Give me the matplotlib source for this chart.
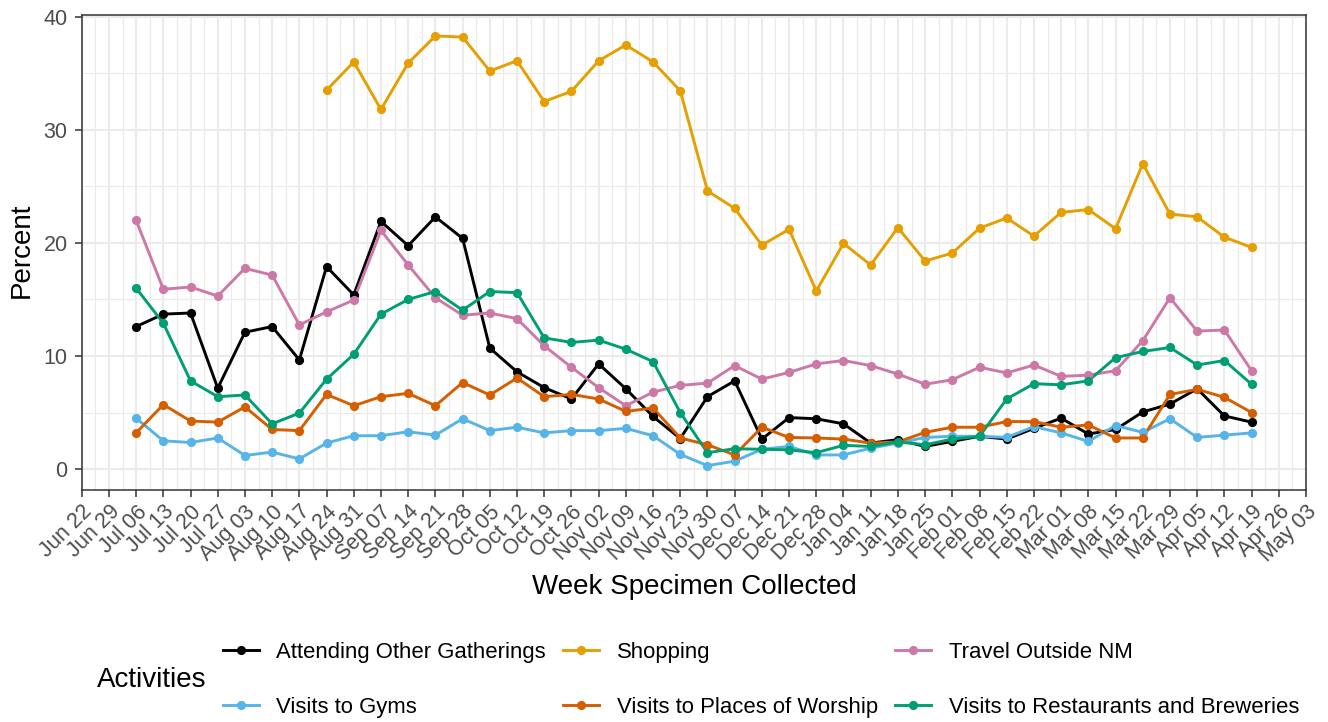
import matplotlib
matplotlib.use("Agg")
import matplotlib.pyplot as plt
import matplotlib.dates as mdates
from matplotlib.lines import Line2D
from matplotlib.ticker import FixedLocator
import numpy as np
import pandas as pd

plt.rcParams['font.family'] = ['Liberation Sans', 'DejaVu Sans']

weeks = ["2020-07-06", "2020-07-13", "2020-07-20", "2020-07-27", "2020-08-03", "2020-08-10",
         "2020-08-17", "2020-08-24", "2020-08-31", "2020-09-07", "2020-09-14", "2020-09-21",
         "2020-09-28", "2020-10-05", "2020-10-12", "2020-10-19", "2020-10-26", "2020-11-02",
         "2020-11-09", "2020-11-16", "2020-11-23", "2020-11-30", "2020-12-07", "2020-12-14",
         "2020-12-21", "2020-12-28", "2021-01-04", "2021-01-11", "2021-01-18", "2021-01-25",
         "2021-02-01", "2021-02-08", "2021-02-15", "2021-02-22", "2021-03-01", "2021-03-08",
         "2021-03-15", "2021-03-22", "2021-03-29", "2021-04-05", "2021-04-12", "2021-04-19"]

attending = [12.6, 13.7, 13.8, 7.15, 12.1, 12.6, 9.65, 17.9, 15.4, 21.9, 19.75, 22.3,
             20.4, 10.7, 8.6, 7.2, 6.2, 9.3, 7.1, 4.65, 2.7, 6.4, 7.8, 2.65,
             4.55, 4.45, 4.0, 2.3, 2.6, 2.0, 2.45, 2.9, 2.65, 3.6, 4.5, 3.1,
             3.5, 5.05, 5.75, 7.1, 4.7, 4.15]
shopping = [None, None, None, None, None, None, None, 33.5, 36.0, 31.8, 35.9, 38.3,
            38.2, 35.2, 36.1, 32.5, 33.4, 36.1, 37.5, 36.0, 33.45, 24.6, 23.05, 19.8,
            21.2, 15.75, 19.95, 18.05, 21.35, 18.4, 19.1, 21.3, 22.2, 20.6, 22.7, 22.95,
            21.25, 27.0, 22.55, 22.3, 20.5, 19.6]
travel = [22.0, 15.9, 16.1, 15.3, 17.75, 17.15, 12.75, 13.9, 14.95, 21.1, 18.05, 15.15,
          13.6, 13.8, 13.3, 10.9, 9.0, 7.2, 5.6, 6.8, 7.4, 7.6, 9.15, 7.95,
          8.55, 9.3, 9.6, 9.15, 8.4, 7.5, 7.9, 9.0, 8.5, 9.2, 8.2, 8.3,
          8.7, 11.35, 15.15, 12.2, 12.3, 8.7]
gyms = [4.5, 2.5, 2.35, 2.75, 1.2, 1.5, 0.9, 2.3, 2.95, 2.95, 3.3, 3.0,
        4.45, 3.4, 3.7, 3.2, 3.4, 3.4, 3.6, 2.95, 1.3, 0.3, 0.7, 1.75,
        2.0, 1.25, 1.25, 1.85, 2.3, 2.8, 2.9, 2.9, 2.8, 3.75, 3.2, 2.45,
        3.85, 3.25, 4.45, 2.8, 3.0, 3.2]
worship = [3.2, 5.7, 4.25, 4.15, 5.5, 3.5, 3.4, 6.6, 5.6, 6.4, 6.7, 5.6,
           7.65, 6.55, 8.05, 6.4, 6.6, 6.2, 5.1, 5.4, 2.75, 2.15, 1.25, 3.7,
           2.8, 2.75, 2.65, 2.3, 2.4, 3.25, 3.7, 3.7, 4.2, 4.2, 3.7, 3.9,
           2.75, 2.75, 6.6, 7.05, 6.35, 5.0]
restaurants = [16.0, 12.9, 7.8, 6.4, 6.55, 4.0, 4.95, 7.95, 10.15, 13.7, 15.0, 15.7,
               14.05, 15.7, 15.6, 11.6, 11.2, 11.4, 10.6, 9.5, 5.0, 1.45, 1.8, 1.75,
               1.7, 1.45, 2.1, 2.0, 2.4, 2.15, 2.65, 2.9, 6.2, 7.55, 7.45, 7.8,
               9.85, 10.4, 10.75, 9.2, 9.6, 7.5]

series_names = ["Attending Other Gatherings", "Shopping", "Travel Outside NM",
                "Visits to Gyms", "Visits to Places of Worship",
                "Visits to Restaurants and Breweries"]
series_values = [attending, shopping, travel, gyms, worship, restaurants]
series_colors = ["#000000", "#E69F00", "#CC79A7", "#56B4E9", "#D55E00", "#009E73"]

W, H = 1328, 722
fig = plt.figure(figsize=(W / 100, H / 100), dpi=100)
left, right, top, bottom = 81.7, 1306, 15, 490
ax = fig.add_axes([left / W, 1 - bottom / H, (right - left) / W, (bottom - top) / H])

x = pd.to_datetime(weeks)
lw = 2.1
ms = 6.6
for name, vals, col in zip(series_names, series_values, series_colors):
    y = np.array([np.nan if v is None else v for v in vals], dtype=float)
    ax.plot(x, y, color=col, lw=lw, zorder=3, solid_capstyle='butt')
for name, vals, col in zip(series_names, series_values, series_colors):
    y = np.array([np.nan if v is None else v for v in vals], dtype=float)
    ax.plot(x, y, color=col, lw=0, marker='o', ms=ms, zorder=4, markeredgewidth=0)

xstart = pd.Timestamp("2020-06-22")
xend = pd.Timestamp("2021-05-03")
ax.set_xlim(xstart, xend)
ax.set_ylim(-1.85, 40.15)

major = pd.date_range(xstart, xend, freq="7D")
ax.xaxis.set_major_locator(FixedLocator(mdates.date2num(major)))
minor = mdates.date2num(major[:-1]) + 3.5
ax.xaxis.set_minor_locator(FixedLocator(minor))
ax.xaxis.set_major_formatter(mdates.DateFormatter("%b %d"))
ax.set_yticks([0, 10, 20, 30, 40])
ax.yaxis.set_minor_locator(FixedLocator([5, 15, 25, 35]))

ax.grid(which='major', color='#EBEBEB', lw=1.5)
ax.grid(which='minor', color='#EBEBEB', lw=0.8)
ax.set_axisbelow(True)
for s in ax.spines.values():
    s.set_color('#333333')
    s.set_linewidth(1.1)

ax.tick_params(which='major', length=5.2, width=1.1, color='#333333',
               labelcolor='#4D4D4D', labelsize=15.5)
ax.tick_params(axis='y', pad=5)
ax.tick_params(axis='x', pad=3)
ax.tick_params(which='minor', length=0)
for lbl in ax.get_xticklabels():
    lbl.set_rotation(45)
    lbl.set_ha('right')
    lbl.set_va('top')
    lbl.set_rotation_mode('anchor')

fig.text(22 / W, 1 - 250 / H, "Percent", rotation=90, ha='center', va='center', fontsize=20)
fig.text(694 / W, 1 - 587 / H, "Week Specimen Collected", ha='center', va='center', fontsize=20)

handles = [Line2D([0], [0], color=c, lw=lw, marker='o', ms=ms, markeredgewidth=0)
           for c in series_colors]
order = [0, 3, 1, 4, 2, 5]
fig.legend([handles[i] for i in order], [series_names[i] for i in order], ncol=3,
           loc='center left', bbox_to_anchor=(223 / W, 1 - 680 / H), frameon=False,
           fontsize=15.9, handlelength=1.62, handletextpad=0.8, columnspacing=0.78,
           labelspacing=1.55, borderaxespad=0, borderpad=0)
fig.text(97 / W, 1 - 680 / H, "Activities", ha='left', va='center', fontsize=20)

fig.savefig("out.png", dpi=100)
